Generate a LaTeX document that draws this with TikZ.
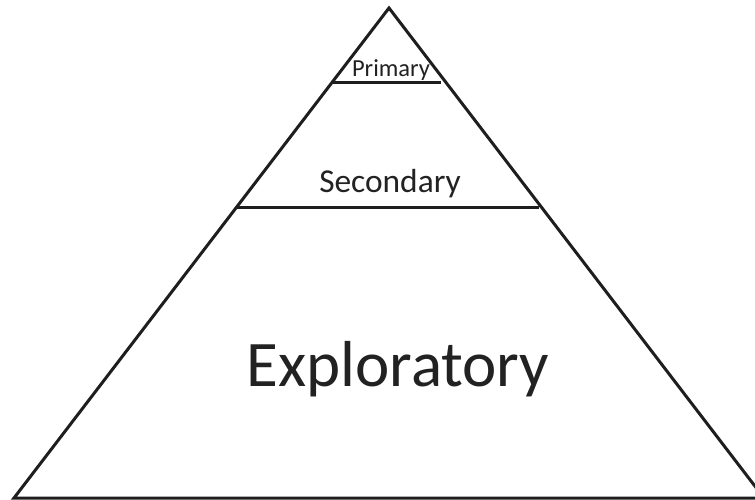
\documentclass[tikz,border=0pt]{standalone}
\usepackage{fontspec}
\setmainfont{Carlito}
\definecolor{ink}{HTML}{1E1E1E}
\definecolor{txt}{HTML}{222222}
\begin{document}
\begin{tikzpicture}[x=1pt,y=-1pt,
  edge/.style={draw=ink,line width=3pt,line join=miter},
  tier/.style={draw=ink,line width=3pt},
  lbl/.style={anchor=base,inner sep=0pt,text=txt}]
\useasboundingbox[clip] (0,0) rectangle (755,500);
\fill[white] (0,0) rectangle (755,500);
\coordinate (apex) at (389,8);
\coordinate (bl) at (14,498);
\coordinate (br) at (764,498);
\draw[edge] (bl) -- (apex) -- (br) -- cycle;
\coordinate (p1) at (332,83);
\coordinate (p2) at (441,83);
\draw[tier] (p1) -- (p2);
\coordinate (s1) at (237,207);
\coordinate (s2) at (539,207);
\draw[tier] (s1) -- (s2);
\node[lbl,font=\fontsize{24.5}{26}\selectfont] (primary) at (391,77) {Primary};
\node[lbl,font=\fontsize{33.4}{36}\selectfont] (secondary) at (390,192) {Secondary};
\node[lbl,font=\fontsize{65}{70}\selectfont] (exploratory) at (398,386) {Exploratory};
\end{tikzpicture}
\end{document}
